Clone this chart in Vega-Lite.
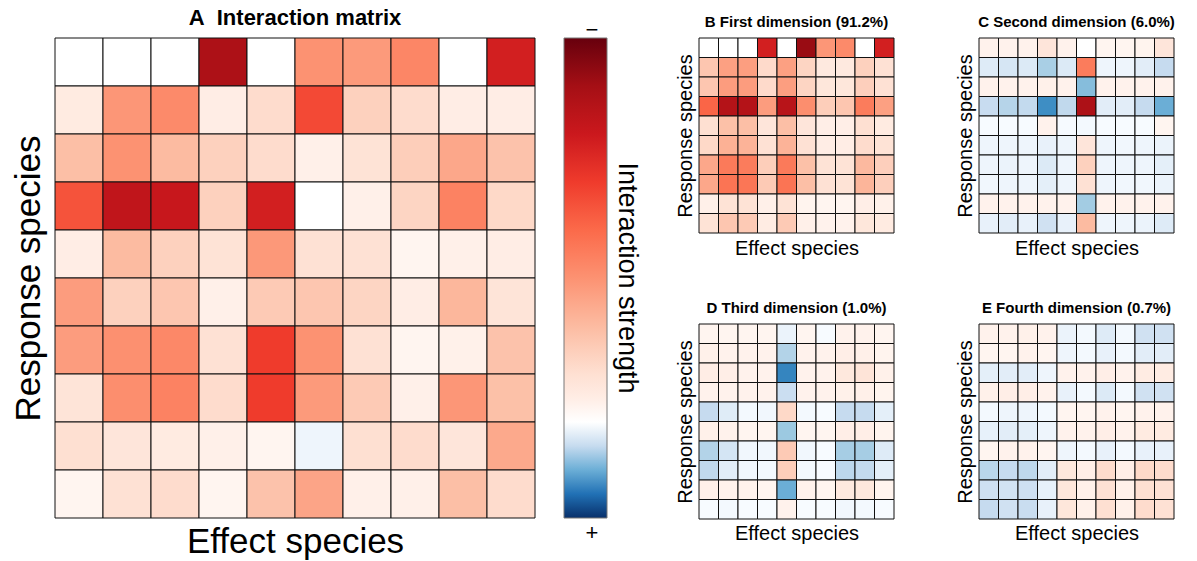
{
"$schema": "https://vega.github.io/schema/vega-lite/v6.json",
"padding": {"left": 11, "top": 6, "right": 2, "bottom": 2},
"background": "white",
"config": {"font": "Liberation Sans", "view": {"stroke": null},
  "axis": {"labels": false, "ticks": false, "domain": false, "grid": false, "titleFontWeight": "normal", "titleColor": "#000"},
  "title": {"color": "#000", "fontWeight": "bold"},
  "legend": {"padding": 0}},
"datasets": {
"a": [
{"r":1,"c":1,"v":0},{"r":1,"c":2,"v":0},{"r":1,"c":3,"v":0},{"r":1,"c":4,"v":6.8},{"r":1,"c":5,"v":0},{"r":1,"c":6,"v":3.0},{"r":1,"c":7,"v":2.8},{"r":1,"c":8,"v":3.3},{"r":1,"c":9,"v":0},{"r":1,"c":10,"v":5.8},
{"r":2,"c":1,"v":0.6},{"r":2,"c":2,"v":2.9},{"r":2,"c":3,"v":3.2},{"r":2,"c":4,"v":0.5},{"r":2,"c":5,"v":1.1},{"r":2,"c":6,"v":4.7},{"r":2,"c":7,"v":1.4},{"r":2,"c":8,"v":1.1},{"r":2,"c":9,"v":0.5},{"r":2,"c":10,"v":0.5},
{"r":3,"c":1,"v":1.9},{"r":3,"c":2,"v":3.0},{"r":3,"c":3,"v":2.0},{"r":3,"c":4,"v":1.4},{"r":3,"c":5,"v":1.1},{"r":3,"c":6,"v":0.4},{"r":3,"c":7,"v":0.9},{"r":3,"c":8,"v":1.5},{"r":3,"c":9,"v":2.5},{"r":3,"c":10,"v":1.8},
{"r":4,"c":1,"v":4.5},{"r":4,"c":2,"v":6.3},{"r":4,"c":3,"v":6.1},{"r":4,"c":4,"v":1.4},{"r":4,"c":5,"v":5.8},{"r":4,"c":6,"v":0},{"r":4,"c":7,"v":0.4},{"r":4,"c":8,"v":1.3},{"r":4,"c":9,"v":3.4},{"r":4,"c":10,"v":1.2},
{"r":5,"c":1,"v":0.5},{"r":5,"c":2,"v":2.0},{"r":5,"c":3,"v":1.4},{"r":5,"c":4,"v":0.9},{"r":5,"c":5,"v":2.85},{"r":5,"c":6,"v":0.95},{"r":5,"c":7,"v":0.95},{"r":5,"c":8,"v":0.2},{"r":5,"c":9,"v":0.4},{"r":5,"c":10,"v":0.5},
{"r":6,"c":1,"v":2.75},{"r":6,"c":2,"v":1.4},{"r":6,"c":3,"v":1.7},{"r":6,"c":4,"v":0.4},{"r":6,"c":5,"v":1.6},{"r":6,"c":6,"v":1.7},{"r":6,"c":7,"v":1.3},{"r":6,"c":8,"v":0.5},{"r":6,"c":9,"v":2.1},{"r":6,"c":10,"v":0.85},
{"r":7,"c":1,"v":2.75},{"r":7,"c":2,"v":3.05},{"r":7,"c":3,"v":3.25},{"r":7,"c":4,"v":0.95},{"r":7,"c":5,"v":5.0},{"r":7,"c":6,"v":3.0},{"r":7,"c":7,"v":0.95},{"r":7,"c":8,"v":0.2},{"r":7,"c":9,"v":0.35},{"r":7,"c":10,"v":1.8},
{"r":8,"c":1,"v":0.85},{"r":8,"c":2,"v":3.1},{"r":8,"c":3,"v":3.4},{"r":8,"c":4,"v":1.1},{"r":8,"c":5,"v":5.0},{"r":8,"c":6,"v":2.8},{"r":8,"c":7,"v":1.6},{"r":8,"c":8,"v":0.4},{"r":8,"c":9,"v":2.9},{"r":8,"c":10,"v":1.85},
{"r":9,"c":1,"v":1.0},{"r":9,"c":2,"v":0.8},{"r":9,"c":3,"v":0.6},{"r":9,"c":4,"v":0.4},{"r":9,"c":5,"v":0.2},{"r":9,"c":6,"v":-0.12},{"r":9,"c":7,"v":1.0},{"r":9,"c":8,"v":1.1},{"r":9,"c":9,"v":0.8},{"r":9,"c":10,"v":2.45},
{"r":10,"c":1,"v":0.2},{"r":10,"c":2,"v":0.95},{"r":10,"c":3,"v":1.1},{"r":10,"c":4,"v":0.2},{"r":10,"c":5,"v":1.8},{"r":10,"c":6,"v":2.55},{"r":10,"c":7,"v":0.4},{"r":10,"c":8,"v":0.4},{"r":10,"c":9,"v":1.9},{"r":10,"c":10,"v":1.1}
],
"b": [
{"r":1,"c":1,"v":0},{"r":1,"c":2,"v":0},{"r":1,"c":3,"v":0},{"r":1,"c":4,"v":5.8},{"r":1,"c":5,"v":0},{"r":1,"c":6,"v":7.2},{"r":1,"c":7,"v":2.9},{"r":1,"c":8,"v":3.2},{"r":1,"c":9,"v":0},{"r":1,"c":10,"v":5.8},
{"r":2,"c":1,"v":1.7},{"r":2,"c":2,"v":2.65},{"r":2,"c":3,"v":2.7},{"r":2,"c":4,"v":1.15},{"r":2,"c":5,"v":2.65},{"r":2,"c":6,"v":1.3},{"r":2,"c":7,"v":0.65},{"r":2,"c":8,"v":0.65},{"r":2,"c":9,"v":1.4},{"r":2,"c":10,"v":0.95},
{"r":3,"c":1,"v":1.7},{"r":3,"c":2,"v":2.75},{"r":3,"c":3,"v":2.75},{"r":3,"c":4,"v":1.15},{"r":3,"c":5,"v":2.7},{"r":3,"c":6,"v":1.3},{"r":3,"c":7,"v":0.75},{"r":3,"c":8,"v":0.75},{"r":3,"c":9,"v":1.45},{"r":3,"c":10,"v":0.95},
{"r":4,"c":1,"v":4.1},{"r":4,"c":2,"v":6.6},{"r":4,"c":3,"v":6.6},{"r":4,"c":4,"v":2.75},{"r":4,"c":5,"v":6.5},{"r":4,"c":6,"v":3.1},{"r":4,"c":7,"v":1.5},{"r":4,"c":8,"v":1.7},{"r":4,"c":9,"v":3.55},{"r":4,"c":10,"v":2.65},
{"r":5,"c":1,"v":1.0},{"r":5,"c":2,"v":1.85},{"r":5,"c":3,"v":1.9},{"r":5,"c":4,"v":0.8},{"r":5,"c":5,"v":1.9},{"r":5,"c":6,"v":0.8},{"r":5,"c":7,"v":0.45},{"r":5,"c":8,"v":0.45},{"r":5,"c":9,"v":1.0},{"r":5,"c":10,"v":0.6},
{"r":6,"c":1,"v":1.2},{"r":6,"c":2,"v":2.25},{"r":6,"c":3,"v":2.2},{"r":6,"c":4,"v":0.95},{"r":6,"c":5,"v":2.2},{"r":6,"c":6,"v":0.95},{"r":6,"c":7,"v":0.5},{"r":6,"c":8,"v":0.5},{"r":6,"c":9,"v":1.1},{"r":6,"c":10,"v":0.9},
{"r":7,"c":1,"v":2.5},{"r":7,"c":2,"v":3.6},{"r":7,"c":3,"v":3.55},{"r":7,"c":4,"v":1.5},{"r":7,"c":5,"v":3.6},{"r":7,"c":6,"v":1.85},{"r":7,"c":7,"v":0.9},{"r":7,"c":8,"v":0.9},{"r":7,"c":9,"v":2.05},{"r":7,"c":10,"v":1.45},
{"r":8,"c":1,"v":2.5},{"r":8,"c":2,"v":3.75},{"r":8,"c":3,"v":3.7},{"r":8,"c":4,"v":1.6},{"r":8,"c":5,"v":3.75},{"r":8,"c":6,"v":1.9},{"r":8,"c":7,"v":0.95},{"r":8,"c":8,"v":0.9},{"r":8,"c":9,"v":2.15},{"r":8,"c":10,"v":1.45},
{"r":9,"c":1,"v":0.4},{"r":9,"c":2,"v":0.9},{"r":9,"c":3,"v":0.9},{"r":9,"c":4,"v":0.4},{"r":9,"c":5,"v":0.9},{"r":9,"c":6,"v":0.25},{"r":9,"c":7,"v":0.2},{"r":9,"c":8,"v":0.2},{"r":9,"c":9,"v":0.45},{"r":9,"c":10,"v":0.35},
{"r":10,"c":1,"v":0.9},{"r":10,"c":2,"v":1.7},{"r":10,"c":3,"v":1.6},{"r":10,"c":4,"v":0.55},{"r":10,"c":5,"v":1.6},{"r":10,"c":6,"v":0.4},{"r":10,"c":7,"v":0.3},{"r":10,"c":8,"v":0.3},{"r":10,"c":9,"v":0.75},{"r":10,"c":10,"v":0.6}
],
"c": [
{"r":1,"c":1,"v":0.3},{"r":1,"c":2,"v":0.3},{"r":1,"c":3,"v":0.3},{"r":1,"c":4,"v":0.8},{"r":1,"c":5,"v":0.3},{"r":1,"c":6,"v":0},{"r":1,"c":7,"v":0.2},{"r":1,"c":8,"v":0.2},{"r":1,"c":9,"v":0.25},{"r":1,"c":10,"v":0.8},
{"r":2,"c":1,"v":-0.25},{"r":2,"c":2,"v":-0.33},{"r":2,"c":3,"v":-0.27},{"r":2,"c":4,"v":-0.68},{"r":2,"c":5,"v":-0.27},{"r":2,"c":6,"v":3.55},{"r":2,"c":7,"v":-0.12},{"r":2,"c":8,"v":-0.12},{"r":2,"c":9,"v":-0.22},{"r":2,"c":10,"v":-0.5},
{"r":3,"c":1,"v":0.3},{"r":3,"c":2,"v":0.3},{"r":3,"c":3,"v":0.3},{"r":3,"c":4,"v":0.35},{"r":3,"c":5,"v":0.3},{"r":3,"c":6,"v":-0.87},{"r":3,"c":7,"v":0.3},{"r":3,"c":8,"v":0.3},{"r":3,"c":9,"v":0.3},{"r":3,"c":10,"v":0.3},
{"r":4,"c":1,"v":-0.48},{"r":4,"c":2,"v":-0.6},{"r":4,"c":3,"v":-0.52},{"r":4,"c":4,"v":-1.28},{"r":4,"c":5,"v":-0.53},{"r":4,"c":6,"v":6.8},{"r":4,"c":7,"v":-0.22},{"r":4,"c":8,"v":-0.22},{"r":4,"c":9,"v":-0.5},{"r":4,"c":10,"v":-1.0},
{"r":5,"c":1,"v":-0.05},{"r":5,"c":2,"v":-0.05},{"r":5,"c":3,"v":-0.05},{"r":5,"c":4,"v":0.3},{"r":5,"c":5,"v":-0.06},{"r":5,"c":6,"v":-0.08},{"r":5,"c":7,"v":-0.05},{"r":5,"c":8,"v":-0.05},{"r":5,"c":9,"v":-0.05},{"r":5,"c":10,"v":0.2},
{"r":6,"c":1,"v":-0.12},{"r":6,"c":2,"v":-0.12},{"r":6,"c":3,"v":-0.12},{"r":6,"c":4,"v":-0.17},{"r":6,"c":5,"v":-0.12},{"r":6,"c":6,"v":0.8},{"r":6,"c":7,"v":-0.12},{"r":6,"c":8,"v":-0.1},{"r":6,"c":9,"v":-0.12},{"r":6,"c":10,"v":-0.15},
{"r":7,"c":1,"v":-0.12},{"r":7,"c":2,"v":-0.15},{"r":7,"c":3,"v":-0.12},{"r":7,"c":4,"v":-0.27},{"r":7,"c":5,"v":-0.12},{"r":7,"c":6,"v":1.4},{"r":7,"c":7,"v":-0.12},{"r":7,"c":8,"v":-0.12},{"r":7,"c":9,"v":-0.12},{"r":7,"c":10,"v":-0.2},
{"r":8,"c":1,"v":-0.1},{"r":8,"c":2,"v":-0.12},{"r":8,"c":3,"v":-0.12},{"r":8,"c":4,"v":-0.2},{"r":8,"c":5,"v":-0.12},{"r":8,"c":6,"v":0.95},{"r":8,"c":7,"v":-0.12},{"r":8,"c":8,"v":-0.1},{"r":8,"c":9,"v":-0.1},{"r":8,"c":10,"v":-0.15},
{"r":9,"c":1,"v":0.3},{"r":9,"c":2,"v":0.3},{"r":9,"c":3,"v":0.3},{"r":9,"c":4,"v":0.3},{"r":9,"c":5,"v":0.3},{"r":9,"c":6,"v":-0.72},{"r":9,"c":7,"v":0.3},{"r":9,"c":8,"v":0.3},{"r":9,"c":9,"v":0.3},{"r":9,"c":10,"v":0.3},
{"r":10,"c":1,"v":-0.17},{"r":10,"c":2,"v":-0.22},{"r":10,"c":3,"v":-0.17},{"r":10,"c":4,"v":-0.4},{"r":10,"c":5,"v":-0.17},{"r":10,"c":6,"v":2.0},{"r":10,"c":7,"v":-0.12},{"r":10,"c":8,"v":-0.12},{"r":10,"c":9,"v":-0.15},{"r":10,"c":10,"v":-0.25}
],
"d": [
{"r":1,"c":1,"v":0.2},{"r":1,"c":2,"v":0.2},{"r":1,"c":3,"v":0.2},{"r":1,"c":4,"v":0.2},{"r":1,"c":5,"v":-0.15},{"r":1,"c":6,"v":0.2},{"r":1,"c":7,"v":-0.05},{"r":1,"c":8,"v":0.3},{"r":1,"c":9,"v":0.3},{"r":1,"c":10,"v":0.2},
{"r":2,"c":1,"v":0.35},{"r":2,"c":2,"v":0.3},{"r":2,"c":3,"v":0.3},{"r":2,"c":4,"v":0.3},{"r":2,"c":5,"v":-0.62},{"r":2,"c":6,"v":0.3},{"r":2,"c":7,"v":0.3},{"r":2,"c":8,"v":0.45},{"r":2,"c":9,"v":0.4},{"r":2,"c":10,"v":0.25},
{"r":3,"c":1,"v":0.5},{"r":3,"c":2,"v":0.45},{"r":3,"c":3,"v":0.3},{"r":3,"c":4,"v":0.3},{"r":3,"c":5,"v":-1.35},{"r":3,"c":6,"v":0.3},{"r":3,"c":7,"v":0.3},{"r":3,"c":8,"v":0.7},{"r":3,"c":9,"v":0.85},{"r":3,"c":10,"v":0.35},
{"r":4,"c":1,"v":0.3},{"r":4,"c":2,"v":0.3},{"r":4,"c":3,"v":0.3},{"r":4,"c":4,"v":0.3},{"r":4,"c":5,"v":-0.45},{"r":4,"c":6,"v":0.3},{"r":4,"c":7,"v":0.3},{"r":4,"c":8,"v":0.35},{"r":4,"c":9,"v":0.4},{"r":4,"c":10,"v":0.25},
{"r":5,"c":1,"v":-0.5},{"r":5,"c":2,"v":-0.24},{"r":5,"c":3,"v":-0.08},{"r":5,"c":4,"v":-0.1},{"r":5,"c":5,"v":1.2},{"r":5,"c":6,"v":-0.08},{"r":5,"c":7,"v":-0.05},{"r":5,"c":8,"v":-0.5},{"r":5,"c":9,"v":-0.5},{"r":5,"c":10,"v":-0.2},
{"r":6,"c":1,"v":0.35},{"r":6,"c":2,"v":0.3},{"r":6,"c":3,"v":0.2},{"r":6,"c":4,"v":0.2},{"r":6,"c":5,"v":-0.76},{"r":6,"c":6,"v":0.2},{"r":6,"c":7,"v":0.2},{"r":6,"c":8,"v":0.45},{"r":6,"c":9,"v":0.45},{"r":6,"c":10,"v":0.25},
{"r":7,"c":1,"v":-0.62},{"r":7,"c":2,"v":-0.35},{"r":7,"c":3,"v":-0.1},{"r":7,"c":4,"v":-0.1},{"r":7,"c":5,"v":1.6},{"r":7,"c":6,"v":-0.1},{"r":7,"c":7,"v":-0.05},{"r":7,"c":8,"v":-0.7},{"r":7,"c":9,"v":-0.7},{"r":7,"c":10,"v":-0.25},
{"r":8,"c":1,"v":-0.53},{"r":8,"c":2,"v":-0.22},{"r":8,"c":3,"v":-0.1},{"r":8,"c":4,"v":-0.08},{"r":8,"c":5,"v":1.5},{"r":8,"c":6,"v":-0.08},{"r":8,"c":7,"v":-0.05},{"r":8,"c":8,"v":-0.56},{"r":8,"c":9,"v":-0.52},{"r":8,"c":10,"v":-0.2},
{"r":9,"c":1,"v":0.4},{"r":9,"c":2,"v":0.3},{"r":9,"c":3,"v":0.3},{"r":9,"c":4,"v":0.2},{"r":9,"c":5,"v":-1.0},{"r":9,"c":6,"v":0.3},{"r":9,"c":7,"v":0.2},{"r":9,"c":8,"v":0.65},{"r":9,"c":9,"v":0.7},{"r":9,"c":10,"v":0.25},
{"r":10,"c":1,"v":-0.05},{"r":10,"c":2,"v":-0.08},{"r":10,"c":3,"v":-0.05},{"r":10,"c":4,"v":-0.05},{"r":10,"c":5,"v":0.3},{"r":10,"c":6,"v":-0.05},{"r":10,"c":7,"v":-0.05},{"r":10,"c":8,"v":-0.1},{"r":10,"c":9,"v":-0.08},{"r":10,"c":10,"v":-0.05}
],
"e": [
{"r":1,"c":1,"v":0.3},{"r":1,"c":2,"v":0.3},{"r":1,"c":3,"v":0.35},{"r":1,"c":4,"v":0.3},{"r":1,"c":5,"v":-0.15},{"r":1,"c":6,"v":-0.08},{"r":1,"c":7,"v":-0.25},{"r":1,"c":8,"v":-0.08},{"r":1,"c":9,"v":-0.4},{"r":1,"c":10,"v":-0.4},
{"r":2,"c":1,"v":0.2},{"r":2,"c":2,"v":0.2},{"r":2,"c":3,"v":0.3},{"r":2,"c":4,"v":0.2},{"r":2,"c":5,"v":-0.12},{"r":2,"c":6,"v":-0.08},{"r":2,"c":7,"v":-0.17},{"r":2,"c":8,"v":-0.08},{"r":2,"c":9,"v":-0.22},{"r":2,"c":10,"v":-0.22},
{"r":3,"c":1,"v":-0.2},{"r":3,"c":2,"v":-0.22},{"r":3,"c":3,"v":-0.22},{"r":3,"c":4,"v":-0.12},{"r":3,"c":5,"v":0.3},{"r":3,"c":6,"v":0.3},{"r":3,"c":7,"v":0.45},{"r":3,"c":8,"v":0.3},{"r":3,"c":9,"v":0.55},{"r":3,"c":10,"v":0.55},
{"r":4,"c":1,"v":0.35},{"r":4,"c":2,"v":0.45},{"r":4,"c":3,"v":0.45},{"r":4,"c":4,"v":0.3},{"r":4,"c":5,"v":-0.17},{"r":4,"c":6,"v":-0.08},{"r":4,"c":7,"v":-0.27},{"r":4,"c":8,"v":-0.08},{"r":4,"c":9,"v":-0.4},{"r":4,"c":10,"v":-0.4},
{"r":5,"c":1,"v":-0.08},{"r":5,"c":2,"v":-0.12},{"r":5,"c":3,"v":-0.12},{"r":5,"c":4,"v":-0.08},{"r":5,"c":5,"v":0.2},{"r":5,"c":6,"v":0.2},{"r":5,"c":7,"v":0.3},{"r":5,"c":8,"v":0.2},{"r":5,"c":9,"v":0.3},{"r":5,"c":10,"v":0.3},
{"r":6,"c":1,"v":-0.18},{"r":6,"c":2,"v":-0.22},{"r":6,"c":3,"v":-0.2},{"r":6,"c":4,"v":-0.12},{"r":6,"c":5,"v":0.3},{"r":6,"c":6,"v":0.3},{"r":6,"c":7,"v":0.45},{"r":6,"c":8,"v":0.3},{"r":6,"c":9,"v":0.6},{"r":6,"c":10,"v":0.6},
{"r":7,"c":1,"v":0.2},{"r":7,"c":2,"v":0.3},{"r":7,"c":3,"v":0.3},{"r":7,"c":4,"v":0.2},{"r":7,"c":5,"v":-0.12},{"r":7,"c":6,"v":-0.08},{"r":7,"c":7,"v":-0.17},{"r":7,"c":8,"v":-0.08},{"r":7,"c":9,"v":-0.17},{"r":7,"c":10,"v":-0.17},
{"r":8,"c":1,"v":-0.58},{"r":8,"c":2,"v":-0.5},{"r":8,"c":3,"v":-0.55},{"r":8,"c":4,"v":-0.22},{"r":8,"c":5,"v":0.7},{"r":8,"c":6,"v":0.45},{"r":8,"c":7,"v":1.1},{"r":8,"c":8,"v":0.45},{"r":8,"c":9,"v":1.2},{"r":8,"c":10,"v":1.1},
{"r":9,"c":1,"v":-0.42},{"r":9,"c":2,"v":-0.37},{"r":9,"c":3,"v":-0.42},{"r":9,"c":4,"v":-0.18},{"r":9,"c":5,"v":0.75},{"r":9,"c":6,"v":0.35},{"r":9,"c":7,"v":0.95},{"r":9,"c":8,"v":0.35},{"r":9,"c":9,"v":1.0},{"r":9,"c":10,"v":0.95},
{"r":10,"c":1,"v":-0.5},{"r":10,"c":2,"v":-0.4},{"r":10,"c":3,"v":-0.47},{"r":10,"c":4,"v":-0.17},{"r":10,"c":5,"v":0.75},{"r":10,"c":6,"v":0.35},{"r":10,"c":7,"v":1.0},{"r":10,"c":8,"v":0.35},{"r":10,"c":9,"v":1.1},{"r":10,"c":10,"v":0.95}
]
},
"resolve": {"scale": {"color": "independent"}, "legend": {"color": "independent"}},
"spacing": 34,
"hconcat": [
{
 "data": {"name": "a"},
 "width": 480, "height": 480,
 "title": {"text": "A\u00a0\u00a0Interaction matrix", "fontSize": 22, "offset": 8},
 "mark": {"type": "rect", "stroke": "#111", "strokeWidth": 1},
 "encoding": {
  "x": {"field": "c", "type": "ordinal", "scale": {"paddingInner": 0, "paddingOuter": 0}, "axis": {"title": "Effect species", "titleFontSize": 35, "titlePadding": 6}},
  "y": {"field": "r", "type": "ordinal", "scale": {"paddingInner": 0, "paddingOuter": 0}, "axis": {"title": "Response species", "titleFontSize": 35, "titlePadding": 9}},
  "color": {"field": "v", "type": "quantitative",
   "scale": {"type": "linear", "interpolate": "rgb", "clamp": true,
     "domain": [-2, -1.75, -1.5, -1.25, -1, -0.75, -0.5, -0.25, -0.05, 0, 0.2, 1, 2, 3, 4, 5, 6, 7, 8],
     "range": ["#08306b", "#08519c", "#2171b5", "#4292c6", "#6baed6", "#9ecae1", "#c6dbef", "#deebf7", "#f7fbff", "#ffffff", "#fff5f0", "#fee0d2", "#fcbba1", "#fc9272", "#fb6a4a", "#ef3b2c", "#cb181d", "#a50f15", "#67000d"]},
   "legend": {"orient": "right", "direction": "vertical", "offset": 29,
     "gradientLength": 480, "gradientThickness": 43, "gradientStrokeColor": "#777", "gradientStrokeWidth": 1,
     "values": [-2, 8], "labelExpr": "datum.value > 0 ? '−' : '+'",
     "labelFontSize": 22, "labelAlign": "center", "labelOffset": -21.5, "labelColor": "#000",
     "title": "Interaction strength", "titleLimit": 800, "titleOrient": "right", "titleAngle": 90, "titleFontSize": 27, "titleFontWeight": "normal", "titleAnchor": "middle", "titlePadding": 5, "titleColor": "#000",
     "encode": {"labels": {
        "enter": {"dy": {"signal": "datum.value > 0 ? 4 : 5"}, "baseline": {"signal": "datum.value > 0 ? 'bottom' : 'top'"}},
        "update": {"dy": {"signal": "datum.value > 0 ? 4 : 5"}, "baseline": {"signal": "datum.value > 0 ? 'bottom' : 'top'"}}}}}
  }
 }
},
{
 "resolve": {"scale": {"color": "independent"}, "legend": {"color": "independent"}},
 "spacing": 42,
 "vconcat": [
  {
   "resolve": {"scale": {"color": "independent"}, "legend": {"color": "independent"}},
   "spacing": 60,
   "hconcat": [
    {
     "data": {"name": "b"}, "width": 195, "height": 195,
     "title": {"text": "B First dimension (91.2%)", "fontSize": 15, "offset": 8},
     "mark": {"type": "rect", "stroke": "#111", "strokeWidth": 1},
     "encoding": {
      "x": {"field": "c", "type": "ordinal", "scale": {"paddingInner": 0, "paddingOuter": 0}, "axis": {"title": "Effect species", "titleFontSize": 20, "titlePadding": 5}},
      "y": {"field": "r", "type": "ordinal", "scale": {"paddingInner": 0, "paddingOuter": 0}, "axis": {"title": "Response species", "titleFontSize": 20, "titlePadding": 4}},
      "color": {"field": "v", "type": "quantitative", "legend": null,
       "scale": {"type": "linear", "interpolate": "rgb", "clamp": true,
        "domain": [-2, -1.75, -1.5, -1.25, -1, -0.75, -0.5, -0.25, -0.05, 0, 0.2, 1, 2, 3, 4, 5, 6, 7, 8],
        "range": ["#08306b", "#08519c", "#2171b5", "#4292c6", "#6baed6", "#9ecae1", "#c6dbef", "#deebf7", "#f7fbff", "#ffffff", "#fff5f0", "#fee0d2", "#fcbba1", "#fc9272", "#fb6a4a", "#ef3b2c", "#cb181d", "#a50f15", "#67000d"]}}
     }
    },
    {
     "data": {"name": "c"}, "width": 195, "height": 195,
     "title": {"text": "C Second dimension (6.0%)", "fontSize": 15, "offset": 8},
     "mark": {"type": "rect", "stroke": "#111", "strokeWidth": 1},
     "encoding": {
      "x": {"field": "c", "type": "ordinal", "scale": {"paddingInner": 0, "paddingOuter": 0}, "axis": {"title": "Effect species", "titleFontSize": 20, "titlePadding": 5}},
      "y": {"field": "r", "type": "ordinal", "scale": {"paddingInner": 0, "paddingOuter": 0}, "axis": {"title": "Response species", "titleFontSize": 20, "titlePadding": 4}},
      "color": {"field": "v", "type": "quantitative", "legend": null,
       "scale": {"type": "linear", "interpolate": "rgb", "clamp": true,
        "domain": [-2, -1.75, -1.5, -1.25, -1, -0.75, -0.5, -0.25, -0.05, 0, 0.2, 1, 2, 3, 4, 5, 6, 7, 8],
        "range": ["#08306b", "#08519c", "#2171b5", "#4292c6", "#6baed6", "#9ecae1", "#c6dbef", "#deebf7", "#f7fbff", "#ffffff", "#fff5f0", "#fee0d2", "#fcbba1", "#fc9272", "#fb6a4a", "#ef3b2c", "#cb181d", "#a50f15", "#67000d"]}}
     }
    }
   ]
  },
  {
   "resolve": {"scale": {"color": "independent"}, "legend": {"color": "independent"}},
   "spacing": 60,
   "hconcat": [
    {
     "data": {"name": "d"}, "width": 195, "height": 195,
     "title": {"text": "D Third dimension (1.0%)", "fontSize": 15, "offset": 8},
     "mark": {"type": "rect", "stroke": "#111", "strokeWidth": 1},
     "encoding": {
      "x": {"field": "c", "type": "ordinal", "scale": {"paddingInner": 0, "paddingOuter": 0}, "axis": {"title": "Effect species", "titleFontSize": 20, "titlePadding": 4}},
      "y": {"field": "r", "type": "ordinal", "scale": {"paddingInner": 0, "paddingOuter": 0}, "axis": {"title": "Response species", "titleFontSize": 20, "titlePadding": 4}},
      "color": {"field": "v", "type": "quantitative", "legend": null,
       "scale": {"type": "linear", "interpolate": "rgb", "clamp": true,
        "domain": [-2, -1.75, -1.5, -1.25, -1, -0.75, -0.5, -0.25, -0.05, 0, 0.2, 1, 2, 3, 4, 5, 6, 7, 8],
        "range": ["#08306b", "#08519c", "#2171b5", "#4292c6", "#6baed6", "#9ecae1", "#c6dbef", "#deebf7", "#f7fbff", "#ffffff", "#fff5f0", "#fee0d2", "#fcbba1", "#fc9272", "#fb6a4a", "#ef3b2c", "#cb181d", "#a50f15", "#67000d"]}}
     }
    },
    {
     "data": {"name": "e"}, "width": 195, "height": 195,
     "title": {"text": "E Fourth dimension (0.7%)", "fontSize": 15, "offset": 8},
     "mark": {"type": "rect", "stroke": "#111", "strokeWidth": 1},
     "encoding": {
      "x": {"field": "c", "type": "ordinal", "scale": {"paddingInner": 0, "paddingOuter": 0}, "axis": {"title": "Effect species", "titleFontSize": 20, "titlePadding": 4}},
      "y": {"field": "r", "type": "ordinal", "scale": {"paddingInner": 0, "paddingOuter": 0}, "axis": {"title": "Response species", "titleFontSize": 20, "titlePadding": 4}},
      "color": {"field": "v", "type": "quantitative", "legend": null,
       "scale": {"type": "linear", "interpolate": "rgb", "clamp": true,
        "domain": [-2, -1.75, -1.5, -1.25, -1, -0.75, -0.5, -0.25, -0.05, 0, 0.2, 1, 2, 3, 4, 5, 6, 7, 8],
        "range": ["#08306b", "#08519c", "#2171b5", "#4292c6", "#6baed6", "#9ecae1", "#c6dbef", "#deebf7", "#f7fbff", "#ffffff", "#fff5f0", "#fee0d2", "#fcbba1", "#fc9272", "#fb6a4a", "#ef3b2c", "#cb181d", "#a50f15", "#67000d"]}}
     }
    }
   ]
  }
 ]
}
]
}
